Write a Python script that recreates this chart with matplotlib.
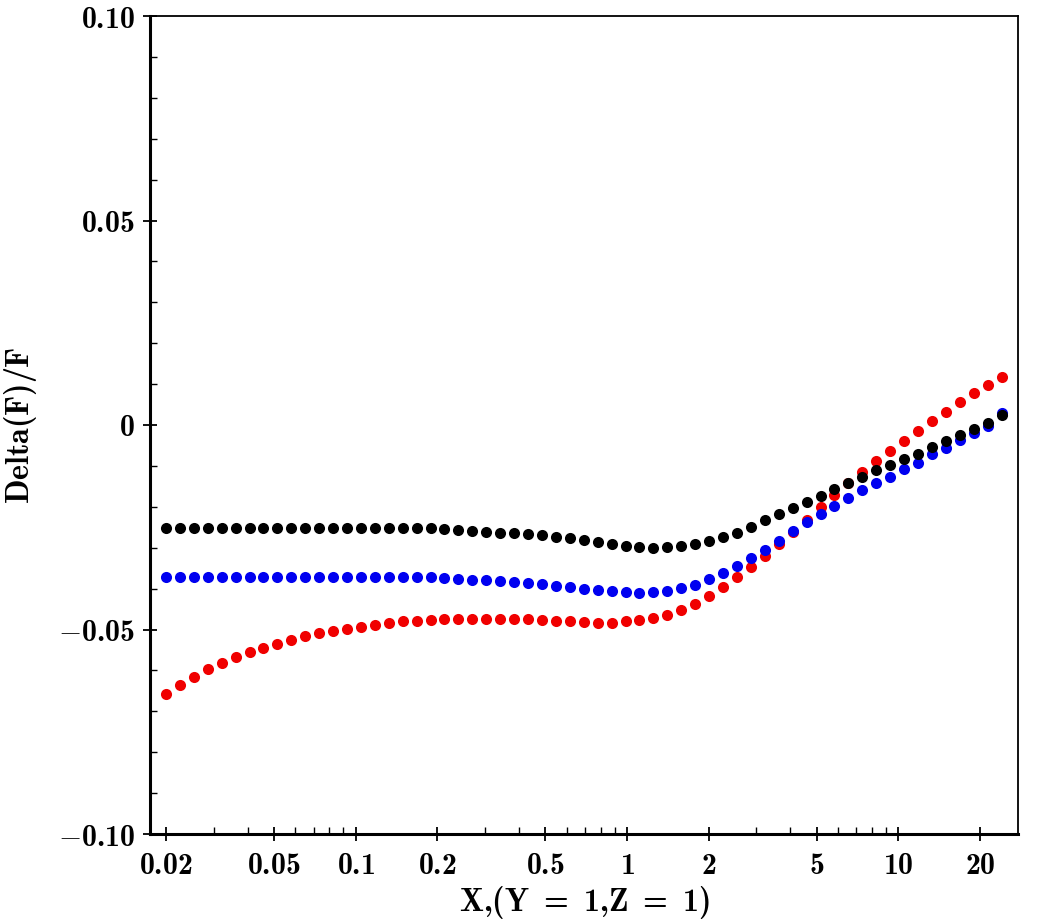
import matplotlib
matplotlib.use("Agg")
import matplotlib.pyplot as plt
from matplotlib.ticker import FixedLocator, FixedFormatter, LogLocator, NullFormatter, MultipleLocator

plt.rcParams['mathtext.fontset'] = 'custom'
plt.rcParams['mathtext.rm'] = 'cmr10'
plt.rcParams['mathtext.it'] = 'cmmi10'
plt.rcParams['mathtext.bf'] = 'cmb10'
plt.rcParams['mathtext.sf'] = 'cmss10'
plt.rcParams['mathtext.tt'] = 'cmtt10'
plt.rcParams['mathtext.cal'] = 'cmsy10'
plt.rcParams['mathtext.fallback'] = 'cm'

x_vals = [0.02, 0.02251, 0.02533, 0.02851, 0.03209, 0.03611, 0.04064, 0.04574, 0.05148, 0.05793,
          0.06520, 0.07338, 0.08258, 0.09294, 0.1046, 0.1177, 0.1325, 0.1491, 0.1678, 0.1888,
          0.2125, 0.2392, 0.2692, 0.3030, 0.3410, 0.3837, 0.4319, 0.4860, 0.5470, 0.6156,
          0.6928, 0.7797, 0.8775, 0.9876, 1.111, 1.251, 1.408, 1.584, 1.783, 2.007,
          2.259, 2.542, 2.861, 3.220, 3.624, 4.078, 4.590, 5.165, 5.813, 6.542,
          7.362, 8.286, 9.325, 10.49, 11.81, 13.29, 14.96, 16.84, 18.95, 21.32, 24.00]

black_vals = [-0.0252] * 20 + [
    -0.0254, -0.0257, -0.0259, -0.0261, -0.0263, -0.0265, -0.0267, -0.0270, -0.0274, -0.0277,
    -0.0281, -0.0286, -0.0291, -0.0295, -0.0298, -0.0300, -0.0299, -0.0295, -0.0290, -0.0284,
    -0.0274, -0.0263, -0.0249, -0.0233, -0.0218, -0.0204, -0.0188, -0.0173, -0.0157, -0.0141,
    -0.0126, -0.0111, -0.0097, -0.0084, -0.0070, -0.0055, -0.0040, -0.0025, -0.0010, 0.0006,
    0.0024]

blue_vals = [-0.0371] * 20 + [
    -0.0375, -0.0377, -0.0378, -0.0379, -0.0381, -0.0383, -0.0386, -0.0388, -0.0393, -0.0397,
    -0.0401, -0.0404, -0.0407, -0.0409, -0.0410, -0.0409, -0.0406, -0.0398, -0.0390, -0.0377,
    -0.0361, -0.0345, -0.0325, -0.0305, -0.0284, -0.0260, -0.0238, -0.0218, -0.0198, -0.0178,
    -0.0158, -0.0141, -0.0126, -0.0108, -0.0092, -0.0072, -0.0056, -0.0037, -0.0019, -0.0002,
    0.0030]

red_vals = [
    -0.0657, -0.0636, -0.0616, -0.0597, -0.0581, -0.0567, -0.0555, -0.0545, -0.0535, -0.0525,
    -0.0516, -0.0509, -0.0503, -0.0498, -0.0493, -0.0488, -0.0484, -0.0480, -0.0478, -0.0477,
    -0.0475, -0.0474, -0.0474, -0.0474, -0.0474, -0.0474, -0.0475, -0.0476, -0.0478, -0.0479,
    -0.0481, -0.0483, -0.0483, -0.0480, -0.0477, -0.0472, -0.0465, -0.0452, -0.0437, -0.0417,
    -0.0396, -0.0371, -0.0347, -0.0320, -0.0291, -0.0262, -0.0232, -0.0201, -0.0171, -0.0143,
    -0.0115, -0.0089, -0.0064, -0.0039, -0.0014, 0.0010, 0.0033, 0.0056, 0.0078, 0.0098,
    0.0118]

x_ticks = [0.02, 0.05, 0.1, 0.2, 0.5, 1, 2, 5, 10, 20]
x_tick_labels = ['0.02', '0.05', '0.1', '0.2', '0.5', '1', '2', '5', '10', '20']
y_ticks = [-0.10, -0.05, 0, 0.05, 0.10]
y_tick_labels = ['-0.10', '-0.05', '0', '0.05', '0.10']

fig = plt.figure(figsize=(10.55, 9.19), dpi=100)
ax = fig.add_axes([150/1055, 1-834/919, (1018-150)/1055, (834-16)/919])

ms = 8.0
ax.plot(x_vals, red_vals, 'o', color='#f00000', markersize=ms, markeredgewidth=0, linestyle='none')
ax.plot(x_vals, blue_vals, 'o', color='#0000f0', markersize=ms, markeredgewidth=0, linestyle='none')
ax.plot(x_vals, black_vals, 'o', color='black', markersize=ms, markeredgewidth=0, linestyle='none')

ax.set_xscale('log')
ax.set_xlim(0.01746, 27.6)
ax.set_ylim(-0.10, 0.10)

ax.xaxis.set_major_locator(FixedLocator(x_ticks))
ax.xaxis.set_major_formatter(FixedFormatter([r'$\mathbf{%s}$' % s for s in x_tick_labels]))
ax.xaxis.set_minor_locator(LogLocator(base=10, subs=[1, 2, 3, 4, 5, 6, 7, 8, 9], numticks=50))
ax.xaxis.set_minor_formatter(NullFormatter())

ax.yaxis.set_major_locator(FixedLocator(y_ticks))
ax.yaxis.set_major_formatter(FixedFormatter([r'$\mathbf{%s}$' % s for s in y_tick_labels]))
ax.yaxis.set_minor_locator(MultipleLocator(0.01))

ax.tick_params(which='major', direction='inout', length=10, width=1.3, labelsize=21.5, pad=6)
ax.tick_params(which='minor', direction='in', length=5, width=1.0)
ax.tick_params(top=False, right=False, which='both')
ax.tick_params(axis='x', which='major', pad=7)

for side in ['left', 'bottom']:
    ax.spines[side].set_linewidth(2.2)
for side in ['top', 'right']:
    ax.spines[side].set_linewidth(1.3)

ax.set_xlabel(r'$\mathbf{X{,}(Y\ =\ 1{,}Z\ =\ 1)}$', fontsize=23)
ax.xaxis.set_label_coords(0.5, -0.061)
ax.set_ylabel(r'$\mathbf{Delta(F)/F}$', fontsize=23)
ax.yaxis.set_label_coords(-0.128, 0.5)

fig.savefig('out.png', dpi=100)
